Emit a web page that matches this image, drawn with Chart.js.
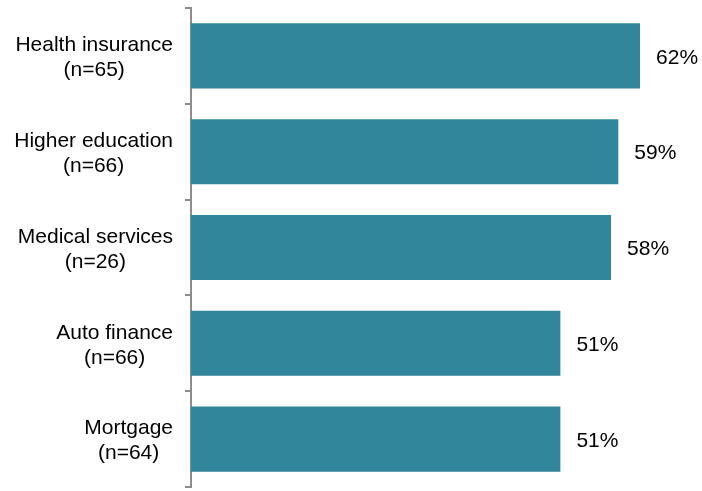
<!DOCTYPE html>
<html>
<head>
<meta charset="utf-8">
<script src="https://cdn.jsdelivr.net/npm/chart.js@4/dist/chart.umd.min.js"></script>
<style>
  html, body { margin: 0; padding: 0; background: #fff; }
  #wrap { width: 702px; height: 491px; }
</style>
</head>
<body>
<div id="wrap"><canvas id="chart"></canvas></div>
<script>
const categories = [
    ['Health insurance', '(n=65)'],
    ['Higher education', '(n=66)'],
    ['Medical services', '(n=26)'],
    ['Auto finance', '(n=66)'],
    ['Mortgage', '(n=64)']
];
const values = [62, 59, 58, 51, 51];

const FONT = '"Liberation Sans", Arial, sans-serif';

// draws the two-line category labels, each block centred on its own widest line
const catLabels = {
    id: 'catLabels',
    afterDraw(chart) {
        const ctx = chart.ctx;
        const y = chart.scales.y;
        ctx.save();
        ctx.font = '21px ' + FONT;
        ctx.fillStyle = '#000';
        ctx.textAlign = 'center';
        ctx.textBaseline = 'middle';
        categories.forEach((lines, i) => {
            const w = Math.max(...lines.map(l => ctx.measureText(l).width));
            const cx = y.right - 18 - w / 2;
            const cy = y.getPixelForTick(i) + 2;
            const lh = 25;
            lines.forEach((l, j) => {
                ctx.fillText(l, cx, cy + (j - (lines.length - 1) / 2) * lh);
            });
        });
        // value labels
        const meta = chart.getDatasetMeta(0);
        ctx.textAlign = 'left';
        meta.data.forEach((bar, i) => {
            ctx.fillText(values[i] + '%', bar.x + 16, bar.y + 2);
        });
        ctx.restore();
    }
};

new Chart(document.getElementById('chart'), {
    type: 'bar',
    data: {
        labels: categories,
        datasets: [{
            data: values,
            backgroundColor: '#31869B',
            borderWidth: 0,
            barPercentage: 0.68,
            categoryPercentage: 1
        }]
    },
    options: {
        indexAxis: 'y',
        responsive: true,
        maintainAspectRatio: false,
        animation: false,
        layout: { padding: { top: 8, bottom: 4, right: 4, left: 0 } },
        plugins: {
            legend: { display: false },
            tooltip: { enabled: false }
        },
        scales: {
            x: {
                display: false,
                min: 0,
                max: 70
            },
            y: {
                afterFit(scale) { scale.width = 191; },
                border: { display: true, color: '#8c8c8c', width: 2 },
                grid: {
                    offset: true,
                    drawOnChartArea: false,
                    drawTicks: true,
                    tickLength: 6,
                    color: '#8c8c8c',
                    lineWidth: 2
                },
                ticks: { display: false }
            }
        }
    },
    plugins: [catLabels]
});
</script>
</body>
</html>
